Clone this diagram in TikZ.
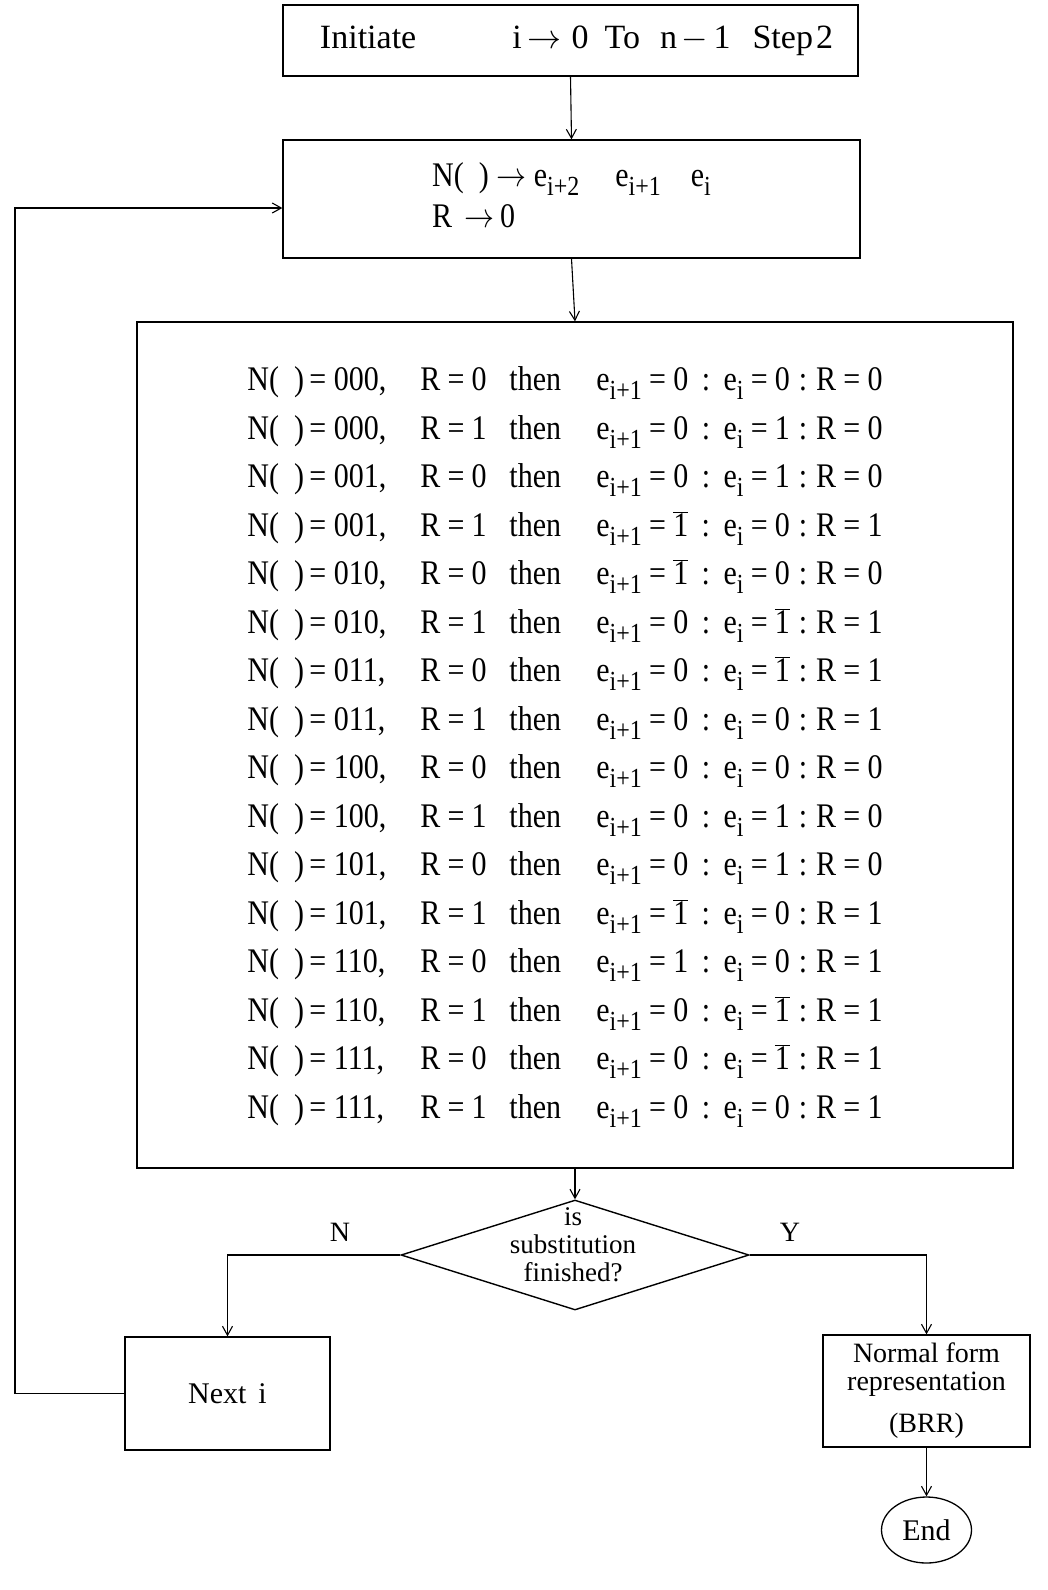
\RequirePackage{fix-cm}
\documentclass[tikz,border=0pt]{standalone}
\usepackage{fontspec}
\setmainfont{Liberation Serif}
\usetikzlibrary{shapes.geometric,arrows.meta,calc}
\newcommand\lo[1]{\raisebox{-0.55ex}{\scalebox{0.8}{#1}}}
\newcommand\bone{\ensuremath{\overline{\mbox{1}}}}
\newcommand\eq{\hspace{0.24em}=\hspace{0.24em}}
\newcommand\ra{\ensuremath{\rightarrow}}
\newcommand\rw[5]{\makebox[173pt][l]{N(\hspace{0.5em})\hspace{0.18em}=\hspace{0.25em}#1,}\makebox[89pt][l]{R\eq#2}\makebox[87pt][l]{then}e\lo{i+1}\eq#3\hspace{0.45em}:\hspace{0.45em}e\lo{i}\eq#4\hspace{0.3em}:\hspace{0.3em}R\eq#5}
\begin{document}
\begin{tikzpicture}[x=1pt,y=-1pt,
  box/.style={draw,line width=1.3pt,inner sep=0pt},
  arr/.style={line width=1.1pt,-{Straight Barb[length=9pt,width=10pt,line width=1.1pt]}},
  big/.style={font=\fontsize{30}{36}\selectfont}]
\fill[white] (0,0) rectangle (1048,1590);
\useasboundingbox (0,0) rectangle (1048,1590);

\node[box,minimum width=575pt,minimum height=71pt,font=\fontsize{34}{40}\selectfont] (top) at (570.5,40.5)
  {\hspace{12pt}Initiate\hspace{96pt}i\hspace{6pt}\ra\hspace{10pt}0\hspace{16pt}To\hspace{20pt}n\hspace{4pt}\ensuremath{-}\hspace{6pt}1\hspace{22pt}Step\hspace{3pt}2};

\node[box,minimum width=577pt,minimum height=118pt,font=\fontsize{30}{34.8}\selectfont] (init) at (571.5,199)
  {\scalebox{1}[1.15]{\begin{tabular}{@{}l@{}}N(\hspace{0.5em})\hspace{0.25em}\ra\hspace{0.25em}e\lo{i+2}\hspace{1.2em}e\lo{i+1}\hspace{1em}e\lo{i}\\R\hspace{0.4em}\ra\hspace{0.2em}0\end{tabular}}};

\node[box,minimum width=876pt,minimum height=846pt,font=\fontsize{30}{42.17}\selectfont] (tbl) at (575,745)
  {\scalebox{1}[1.15]{\begin{tabular}{@{}l@{}}
   \rw{000}{0}{0}{0}{0}\\
   \rw{000}{1}{0}{1}{0}\\
   \rw{001}{0}{0}{1}{0}\\
   \rw{001}{1}{\bone}{0}{1}\\
   \rw{010}{0}{\bone}{0}{0}\\
   \rw{010}{1}{0}{\bone}{1}\\
   \rw{011}{0}{0}{\bone}{1}\\
   \rw{011}{1}{0}{0}{1}\\
   \rw{100}{0}{0}{0}{0}\\
   \rw{100}{1}{0}{1}{0}\\
   \rw{101}{0}{0}{1}{0}\\
   \rw{101}{1}{\bone}{0}{1}\\
   \rw{110}{0}{1}{0}{1}\\
   \rw{110}{1}{0}{\bone}{1}\\
   \rw{111}{0}{0}{\bone}{1}\\
   \rw{111}{1}{0}{0}{1}
  \end{tabular}}\rule{20pt}{0pt}};

\node[draw,diamond,line width=1.4pt,minimum width=348pt,minimum height=110pt,inner sep=0pt] (dec) at (575,1255) {};
\node[font=\fontsize{27}{28}\selectfont,align=center] (dect) at (573,1245) {is\\substitution\\finished?};
\node[font=\fontsize{28}{30}\selectfont] (nlab) at (340,1232) {N};
\node[font=\fontsize{28}{30}\selectfont] (ylab) at (790,1232) {Y};

\node[box,minimum width=205pt,minimum height=113pt,big] (next) at (227.5,1393.5) {Next\hspace{0.4em}i};
\node[box,minimum width=207pt,minimum height=112pt,align=center,font=\fontsize{28}{28}\selectfont] (nf) at (926.5,1391)
  {Normal form\\representation\\[14pt](BRR)};
\node[draw,ellipse,line width=1.3pt,minimum width=90pt,minimum height=66pt,inner sep=0pt,big] (end) at (926.5,1530) {End};

\draw[arr] (top.south) -- (init.north);
\draw[arr] (init.south) -- (tbl.north);
\draw[arr] (tbl.south) -- (dec.north);
\draw[arr] (dec.west) -| (next.north);
\draw[arr] (dec.east) -| (nf.north);
\draw[arr] (nf.south) -- (end.north);
\coordinate (lp1) at (15,1393.5);
\coordinate (lp2) at (15,208);
\draw[arr] (next.west) -- (lp1) -- (lp2) -- (init.west |- lp2);
\end{tikzpicture}
\end{document}
